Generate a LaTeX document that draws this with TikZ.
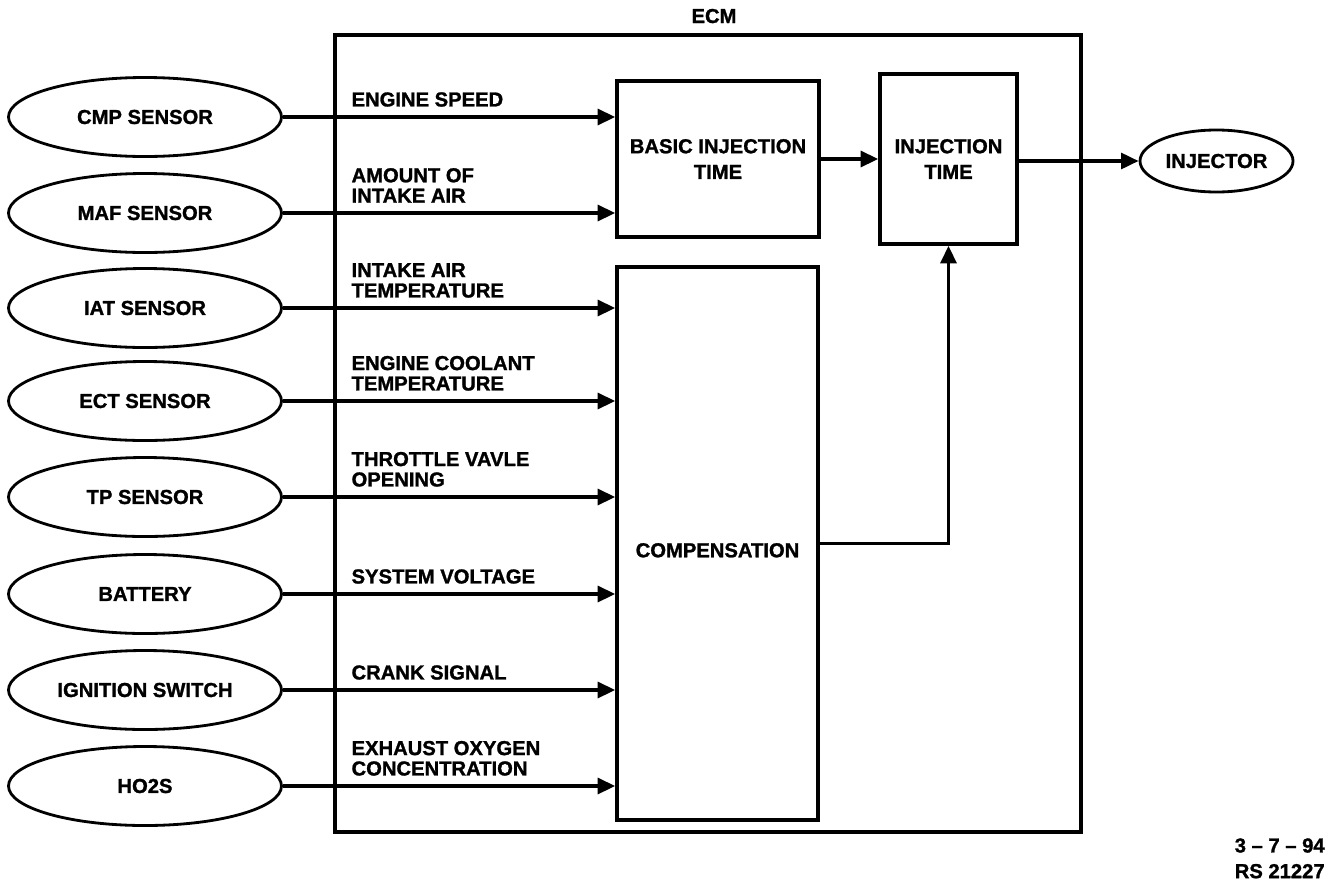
\documentclass[tikz,border=0pt]{standalone}
\usepackage{fontspec}
\setmainfont{Liberation Sans}[BoldFeatures={FakeBold=1.3}]
\usetikzlibrary{shapes.geometric,arrows.meta,positioning}

\newcommand{\ecmfont}{\fontsize{11.5}{11.6}\selectfont\bfseries}
\newcommand{\boxfont}{\fontsize{11.5}{14.6}\selectfont\bfseries}

\tikzset{
	sensor/.style={ellipse, draw, line width=1.6pt, minimum width=5.46cm, minimum height=1.58cm, inner sep=0pt, font=\ecmfont},
	block/.style={rectangle, draw, line width=2pt, align=center, font=\boxfont},
	sig/.style={line width=2pt, -{Triangle[length=10pt, width=9pt]}},
	lbl/.style={anchor=south west, inner sep=0pt, align=left, font=\ecmfont}
}

\begin{document}
\begin{tikzpicture}
\useasboundingbox (0,0) rectangle (26.88,-17.72);

% Caja del ECM
\node[block, minimum width=14.92cm, minimum height=15.94cm] (ecm) at (14.16,-8.67) {};
\node[font=\ecmfont, anchor=base] (ecmname) at (14.28,-0.46) {ECM};

\node[block, minimum width=4.04cm, minimum height=3.12cm] (basic) at (14.36,-3.18) {BASIC INJECTION\\TIME};
\node[block, minimum width=2.74cm, minimum height=3.40cm] (injtime) at (18.97,-3.18) {INJECTION\\TIME};
\node[block, minimum width=4.02cm, minimum height=11.06cm, text height=0.55cm, text depth=0pt] (comp) at (14.35,-10.87) {COMPENSATION};

\node[sensor, minimum width=3.06cm, minimum height=1.24cm] (injector) at (24.33,-3.22) {INJECTOR};

% Sensores
\foreach \i/\y/\name in {1/2.34/CMP SENSOR, 2/4.26/MAF SENSOR, 3/6.16/IAT SENSOR, 4/8.02/ECT SENSOR,
		5/9.94/TP SENSOR, 6/11.88/BATTERY, 7/13.80/IGNITION SWITCH, 8/15.72/HO2S}
	\node[sensor] (s\i) at (2.9,-\y) {\name};

\foreach \i in {1,2}
	\draw[sig] (s\i.east) -- (s\i.east -| basic.west);
\foreach \i in {3,...,8}
	\draw[sig] (s\i.east) -- (s\i.east -| comp.west);

% Senales
\foreach \i/\txt in {1/ENGINE SPEED, 2/AMOUNT OF\\INTAKE AIR, 3/INTAKE AIR\\TEMPERATURE,
		4/ENGINE COOLANT\\TEMPERATURE, 5/THROTTLE VAVLE\\OPENING, 6/SYSTEM VOLTAGE,
		7/CRANK SIGNAL, 8/EXHAUST OXYGEN\\CONCENTRATION}
	\node[lbl] (l\i) at ([xshift=0.36cm, yshift=0.2cm]ecm.west |- s\i.east) {\txt};

% Salida
\draw[sig] (basic.east) -- (injtime.west);
\draw[sig] (injtime.east |- injector.west) -- (injector.west);
\draw[sig] (comp.east) -| (injtime.south);

\node[font=\boxfont, align=right, anchor=north east, inner sep=0pt] (stamp) at (26.5,-16.76) {3 -- 7 -- 94\\RS 21227};
\end{tikzpicture}
\end{document}
